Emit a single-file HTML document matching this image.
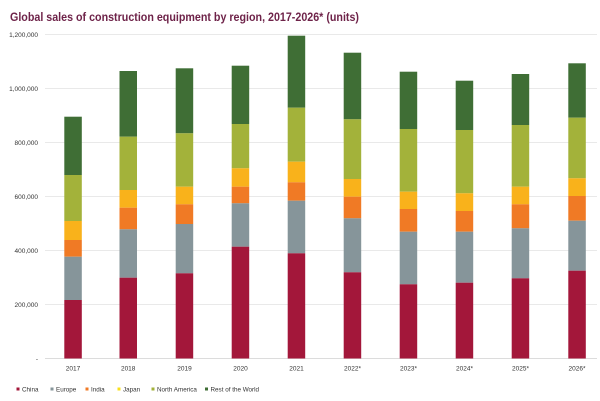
<!DOCTYPE html>
<html><head><meta charset="utf-8"><style>
html,body{margin:0;padding:0;background:#fff;}
svg{display:block;font-family:"Liberation Sans",sans-serif;}
</style></head><body>
<svg width="600" height="401" viewBox="0 0 600 401" xmlns="http://www.w3.org/2000/svg">
<rect width="600" height="401" fill="#fff"/>
<text x="10" y="21" font-size="12" font-weight="bold" fill="#6e2349" textLength="349" lengthAdjust="spacingAndGlyphs">Global sales of construction equipment by region, 2017-2026* (units)</text>
<g stroke="#e9e9e9" stroke-width="1">
<line x1="45" y1="34.5" x2="597" y2="34.5"/>
<line x1="45" y1="88.5" x2="597" y2="88.5"/>
<line x1="45" y1="142.5" x2="597" y2="142.5"/>
<line x1="45" y1="196.5" x2="597" y2="196.5"/>
<line x1="45" y1="250.5" x2="597" y2="250.5"/>
<line x1="45" y1="304.5" x2="597" y2="304.5"/>
<line x1="45" y1="358.5" x2="597" y2="358.5" stroke="#dcdcdc"/>
</g>
<g font-size="6.5" fill="#333" text-anchor="end">
<text x="38" y="37">1,200,000</text>
<text x="38" y="91">1,000,000</text>
<text x="38" y="145">800,000</text>
<text x="38" y="199">600,000</text>
<text x="38" y="253">400,000</text>
<text x="38" y="307">200,000</text>
<text x="38" y="361">-</text>
</g>
<g id="bars">
<!-- 2017 -->
<rect x="64.3" y="116.7" width="17.5" height="58.3" fill="#3f6e35"/>
<rect x="64.3" y="175" width="17.5" height="46" fill="#a3b23a"/>
<rect x="64.3" y="221" width="17.5" height="19" fill="#f9b21b"/>
<rect x="64.3" y="240" width="17.5" height="16.7" fill="#f07a25"/>
<rect x="64.3" y="256.7" width="17.5" height="43.3" fill="#86959a"/>
<rect x="64.3" y="300" width="17.5" height="58.5" fill="#a3173a"/>
<!-- 2018 -->
<rect x="119.5" y="71" width="17.5" height="65.7" fill="#3f6e35"/>
<rect x="119.5" y="136.7" width="17.5" height="53.3" fill="#a3b23a"/>
<rect x="119.5" y="190" width="17.5" height="17.7" fill="#f9b21b"/>
<rect x="119.5" y="207.7" width="17.5" height="21.6" fill="#f07a25"/>
<rect x="119.5" y="229.3" width="17.5" height="48.4" fill="#86959a"/>
<rect x="119.5" y="277.7" width="17.5" height="80.8" fill="#a3173a"/>
<!-- 2019 -->
<rect x="175.7" y="68.3" width="17.5" height="65" fill="#3f6e35"/>
<rect x="175.7" y="133.3" width="17.5" height="53.4" fill="#a3b23a"/>
<rect x="175.7" y="186.7" width="17.5" height="17.6" fill="#f9b21b"/>
<rect x="175.7" y="204.3" width="17.5" height="19.7" fill="#f07a25"/>
<rect x="175.7" y="224" width="17.5" height="49.3" fill="#86959a"/>
<rect x="175.7" y="273.3" width="17.5" height="85.2" fill="#a3173a"/>
<!-- 2020 -->
<rect x="231.7" y="65.7" width="17.5" height="58.3" fill="#3f6e35"/>
<rect x="231.7" y="124" width="17.5" height="44.3" fill="#a3b23a"/>
<rect x="231.7" y="168.3" width="17.5" height="18.4" fill="#f9b21b"/>
<rect x="231.7" y="186.7" width="17.5" height="16.6" fill="#f07a25"/>
<rect x="231.7" y="203.3" width="17.5" height="43.4" fill="#86959a"/>
<rect x="231.7" y="246.7" width="17.5" height="111.8" fill="#a3173a"/>
<!-- 2021 -->
<rect x="287.7" y="35.7" width="17.5" height="72" fill="#3f6e35"/>
<rect x="287.7" y="107.7" width="17.5" height="54" fill="#a3b23a"/>
<rect x="287.7" y="161.7" width="17.5" height="20.6" fill="#f9b21b"/>
<rect x="287.7" y="182.3" width="17.5" height="18.4" fill="#f07a25"/>
<rect x="287.7" y="200.7" width="17.5" height="52.6" fill="#86959a"/>
<rect x="287.7" y="253.3" width="17.5" height="105.2" fill="#a3173a"/>
<!-- 2022 -->
<rect x="343.7" y="52.7" width="17.5" height="66.6" fill="#3f6e35"/>
<rect x="343.7" y="119.3" width="17.5" height="59.7" fill="#a3b23a"/>
<rect x="343.7" y="179" width="17.5" height="17.7" fill="#f9b21b"/>
<rect x="343.7" y="196.7" width="17.5" height="21.6" fill="#f07a25"/>
<rect x="343.7" y="218.3" width="17.5" height="54" fill="#86959a"/>
<rect x="343.7" y="272.3" width="17.5" height="86.2" fill="#a3173a"/>
<!-- 2023 -->
<rect x="399.7" y="71.7" width="17.5" height="57.3" fill="#3f6e35"/>
<rect x="399.7" y="129" width="17.5" height="62.7" fill="#a3b23a"/>
<rect x="399.7" y="191.7" width="17.5" height="17.3" fill="#f9b21b"/>
<rect x="399.7" y="209" width="17.5" height="22.7" fill="#f07a25"/>
<rect x="399.7" y="231.7" width="17.5" height="52.6" fill="#86959a"/>
<rect x="399.7" y="284.3" width="17.5" height="74.2" fill="#a3173a"/>
<!-- 2024 -->
<rect x="455.7" y="80.7" width="17.5" height="49.3" fill="#3f6e35"/>
<rect x="455.7" y="130" width="17.5" height="63.3" fill="#a3b23a"/>
<rect x="455.7" y="193.3" width="17.5" height="17.7" fill="#f9b21b"/>
<rect x="455.7" y="211" width="17.5" height="20.7" fill="#f07a25"/>
<rect x="455.7" y="231.7" width="17.5" height="51" fill="#86959a"/>
<rect x="455.7" y="282.7" width="17.5" height="75.8" fill="#a3173a"/>
<!-- 2025 -->
<rect x="511.7" y="74" width="17.5" height="51" fill="#3f6e35"/>
<rect x="511.7" y="125" width="17.5" height="61.7" fill="#a3b23a"/>
<rect x="511.7" y="186.7" width="17.5" height="17.6" fill="#f9b21b"/>
<rect x="511.7" y="204.3" width="17.5" height="24" fill="#f07a25"/>
<rect x="511.7" y="228.3" width="17.5" height="50" fill="#86959a"/>
<rect x="511.7" y="278.3" width="17.5" height="80.2" fill="#a3173a"/>
<!-- 2026 -->
<rect x="568.3" y="63.3" width="17.5" height="54.4" fill="#3f6e35"/>
<rect x="568.3" y="117.7" width="17.5" height="60.6" fill="#a3b23a"/>
<rect x="568.3" y="178.3" width="17.5" height="17.7" fill="#f9b21b"/>
<rect x="568.3" y="196" width="17.5" height="24.7" fill="#f07a25"/>
<rect x="568.3" y="220.7" width="17.5" height="50" fill="#86959a"/>
<rect x="568.3" y="270.7" width="17.5" height="87.8" fill="#a3173a"/>
</g>
<g font-size="6.5" fill="#333" text-anchor="middle">
<text x="73" y="370.5">2017</text>
<text x="128.2" y="370.5">2018</text>
<text x="184.5" y="370.5">2019</text>
<text x="240.5" y="370.5">2020</text>
<text x="296.5" y="370.5">2021</text>
<text x="352.5" y="370.5">2022*</text>
<text x="408.5" y="370.5">2023*</text>
<text x="464.5" y="370.5">2024*</text>
<text x="520.5" y="370.5">2025*</text>
<text x="577" y="370.5">2026*</text>
</g>
<g font-size="6.3" fill="#333">
<rect x="16.5" y="387.5" width="3" height="3" fill="#a3173a"/>
<text x="22" y="391.5">China</text>
<rect x="50.5" y="387.5" width="3" height="3" fill="#86959a"/>
<text x="56" y="391.5">Europe</text>
<rect x="85.5" y="387.5" width="3" height="3" fill="#f07a25"/>
<text x="91" y="391.5">India</text>
<rect x="117.5" y="387.5" width="3" height="3" fill="#f9e01b"/>
<text x="123" y="391.5">Japan</text>
<rect x="151.5" y="387.5" width="3" height="3" fill="#a3b23a"/>
<text x="157" y="391.5">North America</text>
<rect x="205" y="387.5" width="3" height="3" fill="#3f6e35"/>
<text x="210.5" y="391.5">Rest of the World</text>
</g>
</svg>
</body></html>
